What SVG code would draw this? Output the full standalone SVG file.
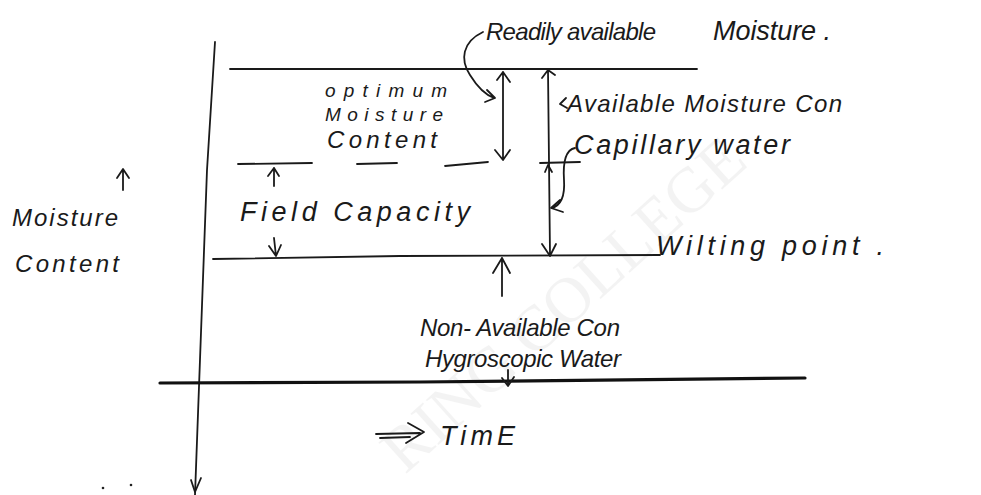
<svg xmlns="http://www.w3.org/2000/svg" width="981" height="495" viewBox="0 0 981 495">
<style>
.ln{stroke:#1a1a1a;stroke-width:1.8;fill:none;stroke-linecap:round;stroke-linejoin:round}
.thick{stroke:#111;stroke-width:3.2;fill:none;stroke-linecap:round}
.t{font-family:"Liberation Sans","DejaVu Sans",sans-serif;font-size:27px;fill:#1a1a1a;font-style:italic}
.m{font-size:24px}
.s{font-size:19px}
.wm{font-family:"Liberation Serif",serif;font-size:64px;fill:#000;opacity:0.045}
</style>
<rect width="981" height="495" fill="#fff"/>
<text class="wm" transform="translate(405,475) rotate(-42)">RING COLLEGE</text>
<g id="axes">
<path class="ln" d="M215,42 L207,170 L195,495"/>
<path class="ln" d="M191,480 L195,492 L201,478"/>
<path class="thick" d="M160,383 L420,382 L805,378"/>
</g>
<g id="levels">
<path class="ln" d="M230,69 L697,69"/>
<path class="ln" d="M238,164 L312,163 M357,164 L397,163 M445,166 L488,162 M540,163 L580,162"/>
<path class="ln" d="M213,259 L400,256 L660,255"/>
</g>
<g id="connectors">
<path class="ln" d="M503,72 L503,158 M497,80 L503,72 L510,82 M495,150 L503,160 L510,150"/>
<path class="ln" d="M548,70 L550,255 M542,78 L548,70 L555,75 M542,244 L550,256 L556,244"/>
<path class="ln" d="M545,172 L548,165 L552,172"/>
<path class="ln" d="M502,296 L502,258 M493,273 L502,258 L510,273" stroke-width="2.5"/>
<path class="ln" d="M508,370 L508,385 M502,378 L508,386 L514,377"/>
<path class="ln" d="M274,186 L274,168 M268,176 L274,168 L279,176"/>
<path class="ln" d="M274,238 L276,256 M269,246 L276,256 L281,245"/>
<path class="ln" d="M123,190 L123,170 M117,178 L123,169 L129,178" stroke-width="2.2"/>
<path class="ln" d="M483,32 C462,42 460,60 470,75 C478,88 486,95 494,98 M487,90 L495,98 L485,102"/>
<path class="ln" d="M575,148 C565,150 563,165 564,180 C565,195 562,205 552,208 M560,200 L551,208 L563,212"/>
<path class="ln" d="M560,104 L566,98 M560,104 L567,108"/>
<path class="ln" d="M376,434 L420,433 M408,423 L424,432 L406,443 M380,438 L410,437" stroke-width="2.2"/>
<circle cx="103" cy="488" r="1.3" fill="#222"/>
<circle cx="131" cy="485" r="1.3" fill="#222"/>
</g>
<g id="labels">
<text class="t m" x="486" y="40" textLength="170" lengthAdjust="spacing">Readily available</text>
<text class="t" x="713" y="40" textLength="118" lengthAdjust="spacing">Moisture .</text>
<text class="t s" x="325" y="97" textLength="122" lengthAdjust="spacing">optimum</text>
<text class="t s" x="325" y="121" textLength="118" lengthAdjust="spacing">Moisture</text>
<text class="t m" x="327" y="148" textLength="110" lengthAdjust="spacing">Content</text>
<text class="t m" x="567" y="112" textLength="275" lengthAdjust="spacing">Available Moisture Con</text>
<text class="t" x="574" y="154" textLength="216" lengthAdjust="spacing">Capillary water</text>
<text class="t" x="240" y="221" textLength="230" lengthAdjust="spacing">Field Capacity</text>
<text class="t" x="656" y="255" textLength="228" lengthAdjust="spacing">Wilting point .</text>
<text class="t m" x="420" y="336" textLength="200" lengthAdjust="spacing">Non- Available Con</text>
<text class="t m" x="425" y="367" textLength="196" lengthAdjust="spacing">Hygroscopic Water</text>
<text class="t m" x="12" y="226" textLength="106" lengthAdjust="spacing">Moisture</text>
<text class="t m" x="15" y="272" textLength="104" lengthAdjust="spacing">Content</text>
<text class="t" x="440" y="445" textLength="75" lengthAdjust="spacing">TimE</text>
</g>
</svg>
